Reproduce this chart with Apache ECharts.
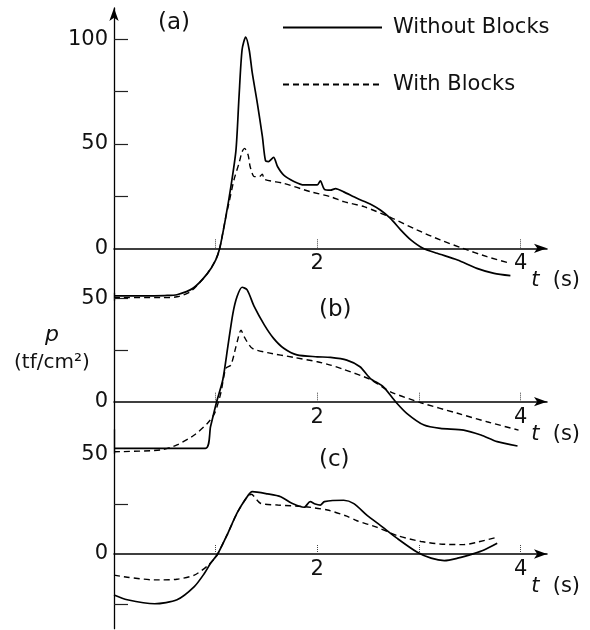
<!DOCTYPE html>
<html><head><meta charset="utf-8">
<script src="https://cdn.jsdelivr.net/npm/echarts@6/dist/echarts.min.js"></script>
<style>html,body{margin:0;padding:0;background:#fff}#c{width:590px;height:630px}</style>
</head><body><div id="c"></div>
<script>
// ---- data: [t (s), p (tf/cm2)] ----
const aWithout = [[0,-22.8],[0.3,-22.8],[0.5,-22.6],[0.62,-22.2],[0.78,-19],[0.92,-12],[1.0,-5.6],[1.04,0],[1.1,15],[1.15,29.5],[1.2,47],[1.23,72.5],[1.26,95],[1.295,101],[1.33,95],[1.36,84],[1.41,69.5],[1.46,53.4],[1.49,42],[1.52,41.5],[1.57,43.5],[1.61,39],[1.67,35],[1.77,32],[1.87,30.3],[2.0,30.3],[2.03,32.3],[2.07,28.2],[2.13,27.8],[2.18,28.6],[2.26,27],[2.39,23.9],[2.52,21.2],[2.62,18.3],[2.72,14.3],[2.82,8.8],[2.92,4],[3.04,0],[3.18,-2.4],[3.38,-5.6],[3.57,-9.6],[3.74,-12],[3.9,-13.1]];
const aWith = [[0,-23.6],[0.46,-23.6],[0.62,-23.2],[0.75,-20.8],[0.85,-16],[0.92,-12],[1.0,-5.6],[1.04,0],[1.1,15],[1.13,21.5],[1.18,32.7],[1.23,40.7],[1.26,46.2],[1.285,47.8],[1.32,44.6],[1.34,39],[1.38,34.3],[1.43,34.3],[1.46,35.5],[1.48,33],[1.67,31.1],[1.93,27.1],[2.13,24.7],[2.26,22.3],[2.46,19.9],[2.72,14.8],[2.98,8.8],[3.21,4],[3.43,0],[3.67,-4],[3.9,-7.2]];
const bWithout = [[0,-22.5],[0.9,-22.5],[0.95,-12],[1.01,0],[1.07,10.5],[1.12,26.6],[1.17,42.7],[1.21,50.7],[1.26,55.3],[1.31,54],[1.38,45.9],[1.48,37],[1.57,30.6],[1.67,25.8],[1.8,22.6],[2.0,21.7],[2.13,21.4],[2.29,20.1],[2.42,16.9],[2.52,11.3],[2.65,7.2],[2.77,0],[2.88,-5.6],[3.05,-11.3],[3.21,-12.9],[3.44,-13.7],[3.61,-16.1],[3.77,-19.3],[3.97,-21.4]];
const bWith = [[0,-24.2],[0.46,-23.3],[0.62,-20.9],[0.79,-16.1],[0.92,-10.4],[0.99,-5.6],[1.05,4],[1.1,16.1],[1.15,17.7],[1.2,26.6],[1.25,34.6],[1.28,31.4],[1.36,25.8],[1.51,23.7],[1.77,21.4],[2.0,19.3],[2.13,17.7],[2.26,15.6],[2.52,10.8],[2.72,4.8],[3.02,-0.5],[3.38,-5.6],[3.67,-9.7],[3.98,-13.7]];
const cWithout = [[0,-20.6],[0.13,-23],[0.4,-25],[0.62,-23],[0.79,-16.4],[0.89,-9.7],[0.95,-4.7],[1.02,0],[1.12,10.4],[1.21,20.5],[1.3,28],[1.36,31.3],[1.51,30.2],[1.64,28.8],[1.75,25.5],[1.87,23.5],[1.93,26.3],[1.98,25.1],[2.03,24.6],[2.07,26.3],[2.26,27],[2.36,25.3],[2.49,19.4],[2.62,14.4],[2.79,7.7],[2.98,1],[3.12,-2.1],[3.25,-3.3],[3.38,-2.1],[3.54,0.2],[3.64,2],[3.77,5.4]];
const cWith = [[0,-10.6],[0.13,-11.7],[0.4,-13],[0.62,-12.7],[0.79,-10.6],[0.92,-6],[0.99,-2.2],[1.02,0],[1.12,10.4],[1.21,20.5],[1.3,28],[1.35,30],[1.44,25.5],[1.61,24.6],[1.87,23.8],[2.1,22.1],[2.29,19],[2.39,16.7],[2.59,13.4],[2.79,9.2],[3.02,6.3],[3.21,5],[3.44,4.7],[3.57,5.9],[3.77,8.4]];

const seriesNames = ['Without Blocks', 'With Blocks'];
const panelLabels = ['(a)', '(b)', '(c)'];
const xTickLabels = [2, 4];
const xTicks = [[1,2,4],[1,2,3,4],[1,2,3,4]];
const yLabels = [[0,50,100],[0,50],[0,50]];
const yTicks = [[25,50,75,100],[25,50],[25,-25]];
const yRanges = [[-25,115],[-25,52.5],[-37.5,62.5]];
const yIntervals = [25, 25, 12.5];

const FONT = 'DejaVu Sans';
// pixel scale per panel (px per tf/cm2) and zero-line position
const yScale = [2.09, 2.07, 1.99];
const zeroY = [248.3, 401.7, 554];
const grids = yRanges.map((r,i)=>({
  left:114, width:433,
  top: zeroY[i] - r[1]*yScale[i],
  height: (r[1]-r[0])*yScale[i]
}));

// x axis sits on the zero line: shift it up from the grid bottom by the height of the negative range
const xAxes = grids.map((g,i)=>({
  gridIndex:i, type:'value', min:0, max:4.26, interval:1, position:'bottom',
  offset: yRanges[i][0]*yScale[i],
  axisLine:{show:true, onZero:false, symbol:['none','arrow'], symbolSize:[7,13], lineStyle:{color:'#000', width:1.5}},
  axisTick:{show:true, inside:true, length:9, customValues:xTicks[i], lineStyle:{color:'#444', type:'dotted', width:1}},
  axisLabel:{customValues:xTickLabels, fontSize:21, color:'#111', fontFamily:FONT, margin:5},
  splitLine:{show:false},
  name:'{i|t}  (s)', nameLocation:'end', nameGap:-19,
  nameTextStyle:{fontSize:21, color:'#111', fontFamily:FONT, verticalAlign:'top', align:'left', padding:[22,0,0,0],
    rich:{i:{fontStyle:'italic', fontSize:21, fontFamily:FONT, color:'#111'}}}
}));
const yAxes = grids.map((g,i)=>({
  gridIndex:i, type:'value', min:yRanges[i][0], max:yRanges[i][1], interval:yIntervals[i],
  axisLine:{show:true, onZero:false, symbol: i===0?['none','arrow']:['none','none'], symbolSize:[7,13], lineStyle:{color:'#000', width:1.3}},
  axisTick:{show:true, inside:true, length:14, customValues:yTicks[i], lineStyle:{color:'#222', width:1.2}},
  axisLabel:{fontSize:21, color:'#111', fontFamily:FONT, margin:6, hideOverlap:false,
    showMinLabel:false, showMaxLabel:false,
    formatter:(v)=> yLabels[i].indexOf(v) >= 0 ? String(v) : ''},
  splitLine:{show:false}
}));

const panels = [[aWithout,aWith],[bWithout,bWith],[cWithout,cWith]];
const series = [];
panels.forEach((p,i)=>{
  p.forEach((d,j)=>{
    series.push({
      type:'line', name:seriesNames[j], xAxisIndex:i, yAxisIndex:i, data:d,
      symbol:'none', showSymbol:false, smooth:0.25, clip:false,
      itemStyle:{color:'#000'},
      lineStyle:{color:'#000', width:j===0?1.7:1.4, type:j===0?'solid':[6,4]}
    });
  });
});

const titleStyle = {fontSize:23, fontWeight:'normal', color:'#111', fontFamily:FONT};
const chart = echarts.init(document.getElementById('c'));
chart.setOption({
  animation:false,
  backgroundColor:'#fff',
  textStyle:{fontFamily:FONT},
  title:[
    {text:panelLabels[0], left:153, top:7, textStyle:titleStyle},
    {text:panelLabels[1], left:314, top:294, textStyle:titleStyle},
    {text:panelLabels[2], left:314, top:444, textStyle:titleStyle}
  ],
  legend:{
    left:277, top:12, orient:'vertical', itemWidth:99, itemHeight:20, itemGap:36,
    data:seriesNames,
    itemStyle:{opacity:0},
    textStyle:{fontSize:21, color:'#111', fontFamily:FONT, padding:[0,0,0,6]}
  },
  graphic:[
    {type:'text', left:45, top:324, style:{text:'p', fontSize:22, fontStyle:'italic', fontFamily:FONT, fill:'#111'}},
    {type:'text', left:14, top:353, style:{text:'(tf/cm²)', fontSize:20, fontFamily:FONT, fill:'#111'}}
  ],
  grid:grids,
  xAxis:xAxes,
  yAxis:yAxes,
  series:series
});
</script>
</body></html>
